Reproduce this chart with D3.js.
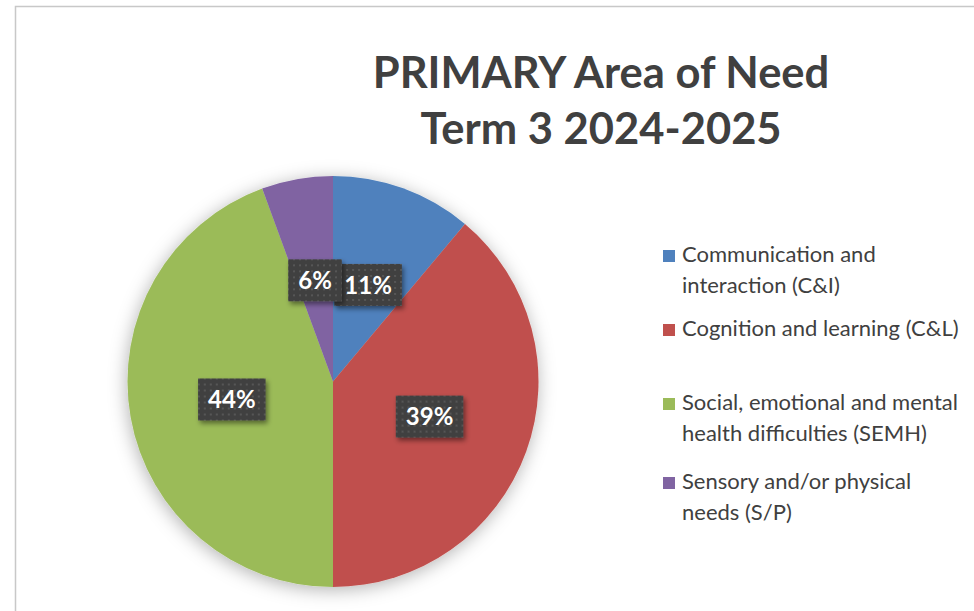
<!DOCTYPE html>
<html>
<head>
<meta charset="utf-8">
<script src="https://cdn.jsdelivr.net/npm/d3@7"></script>
<style>
  body { margin: 0; background: #fff; }
  text { font-family: Lato, "Open Sans", sans-serif; }
</style>
</head>
<body>
<svg></svg>
<script>
var screen = {width: 974, height: 611};

var categories = ["Communication and interaction (C&I)", "Cognition and learning (C&L)",
                  "Social, emotional and mental health difficulties (SEMH)", "Sensory and/or physical needs (S/P)"];
var legendLines = [["Communication and", "interaction (C&I)"], ["Cognition and learning (C&L)"],
                   ["Social, emotional and mental", "health difficulties (SEMH)"], ["Sensory and/or physical", "needs (S/P)"]];
var values = [11.1, 38.9, 44.4, 5.6];
var labels = ["11%", "39%", "44%", "6%"];
var colors = ["#4F81BD", "#C0504D", "#9BBB59", "#8064A2"];
var titleLines = ["PRIMARY Area of Need", "Term 3 2024-2025"];

var svg = d3.select("svg")
    .attr("width", screen.width)
    .attr("height", screen.height)

var defs = svg.append("defs")

// soft shadow around the pie
var f = defs.append("filter").attr("id", "pieShadow")
    .attr("x", "-20%").attr("y", "-20%").attr("width", "140%").attr("height", "140%")
f.append("feDropShadow").attr("dx", -1).attr("dy", 3).attr("stdDeviation", 9)
    .attr("flood-color", "#000").attr("flood-opacity", 0.3)

var f2 = defs.append("filter").attr("id", "boxShadow")
    .attr("x", "-30%").attr("y", "-30%").attr("width", "160%").attr("height", "160%")
f2.append("feDropShadow").attr("dx", 2).attr("dy", 3).attr("stdDeviation", 2.5)
    .attr("flood-color", "#000").attr("flood-opacity", 0.45)

// dotted dark label fill
var pat = defs.append("pattern").attr("id", "dots")
    .attr("patternUnits", "userSpaceOnUse").attr("width", 6).attr("height", 6)
pat.append("rect").attr("width", 6).attr("height", 6).attr("fill", "#404040")
pat.append("rect").attr("x", 2).attr("y", 2).attr("width", 2).attr("height", 2).attr("fill", "#565656")

// chart frame
svg.append("rect")
    .attr("x", 15.5).attr("y", 6.5)
    .attr("width", 1000).attr("height", 700)
    .attr("fill", "#fff")
    .attr("stroke", "#c8c8c8")
    .attr("stroke-width", 1.5)

// title
svg.append("g").selectAll("text")
    .data(titleLines)
    .enter().append("text")
    .attr("x", 601)
    .attr("y", function(d, i) { return 88 + i * 56 })
    .attr("text-anchor", "middle")
    .attr("font-size", 43.5)
    .attr("font-weight", "bold")
    .attr("fill", "#404040")
    .text(function(d) { return d })

var cx = 333, cy = 381.5, radius = 205.5;

var pie = d3.pie().sort(null).value(function(d) { return d })
var arcs = pie(values)
var arc = d3.arc().innerRadius(0).outerRadius(radius)

var g = svg.append("g")
    .attr("transform", "translate(" + cx + "," + cy + ")")

g.append("g").attr("filter", "url(#pieShadow)")
    .selectAll("path")
    .data(arcs)
    .enter().append("path")
    .attr("d", arc)
    .attr("fill", function(d, i) { return colors[i] })

var lab = g.selectAll(".lab")
    .data(arcs)
    .enter().append("g")
    .attr("class", "lab")
    .attr("transform", function(d) { var c = arc.centroid(d); return "translate(" + c[0] + "," + c[1] + ")" })

lab.append("rect").attr("class", "box")
lab.append("text")
    .attr("text-anchor", "middle")
    .attr("dy", "0.36em")
    .attr("font-size", 24)
    .attr("font-weight", "bold")
    .attr("fill", "#fff")
    .text(function(d, i) { return labels[i] })

lab.each(function() {
    var gg = d3.select(this)
    var bb = gg.select("text").node().getBBox()
    gg.select("rect")
        .attr("x", -bb.width / 2 - 10)
        .attr("y", -21)
        .attr("width", bb.width + 20)
        .attr("height", 42)
        .attr("fill", "url(#dots)")
        .attr("filter", "url(#boxShadow)")
})

// legend
var legendTop = [250, 324, 398, 477];
var leg = svg.append("g").selectAll("g")
    .data(categories)
    .enter().append("g")
    .attr("transform", function(d, i) { return "translate(663," + legendTop[i] + ")" })

leg.append("rect")
    .attr("width", 12).attr("height", 12)
    .attr("fill", function(d, i) { return colors[i] })

leg.each(function(d, i) {
    d3.select(this).selectAll("text")
        .data(legendLines[i])
        .enter().append("text")
        .attr("x", 19)
        .attr("y", function(t, j) { return 12 + j * 31 })
        .attr("font-size", 22)
        .attr("fill", "#404040")
        .text(function(t) { return t })
})
</script>
</body>
</html>
